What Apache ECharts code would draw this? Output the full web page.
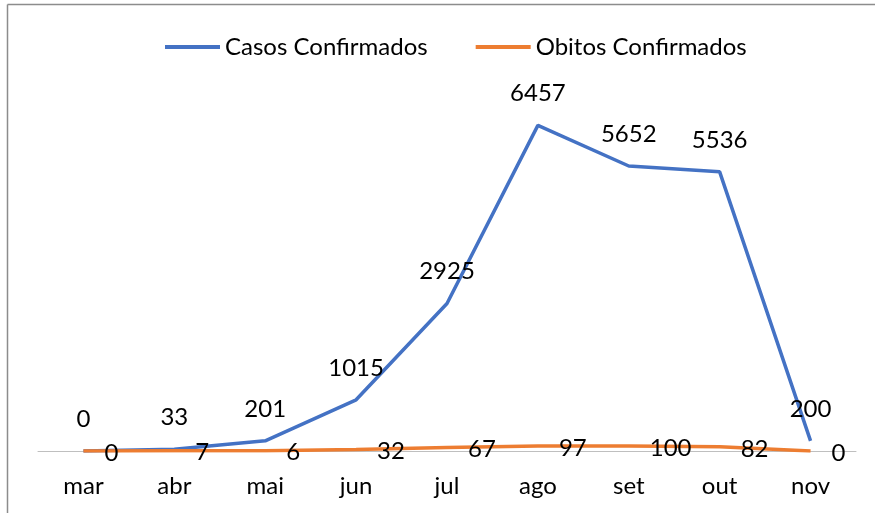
<!DOCTYPE html>
<html><head><meta charset="utf-8">
<script src="https://cdn.jsdelivr.net/npm/echarts@6/dist/echarts.min.js"></script>
<style>html,body{margin:0;padding:0;background:#fff}#c{width:875px;height:513px}</style>
</head><body><div id="c"></div>
<script>
var categories = ['mar','abr','mai','jun','jul','ago','set','out','nov'];
var casos = [0,33,201,1015,2925,6457,5652,5536,200];
var obitos = [0,7,6,32,67,97,100,82,0];
var seriesNames = ['Casos Confirmados','Obitos Confirmados'];
var FONT = 'Lato, "Noto Sans", sans-serif';
var FS = 24;
var chart = echarts.init(document.getElementById('c'));
chart.setOption({
  animation:false,
  color:['#4472C4','#ED7D31'],
  graphic:[
    {type:'line',shape:{x1:7.5,y1:4.5,x2:875,y2:4.5},style:{stroke:'#8c8c8c',lineWidth:1.5}},
    {type:'line',shape:{x1:7.5,y1:4.5,x2:7.5,y2:513},style:{stroke:'#8c8c8c',lineWidth:1.5}}
  ],
  legend:{top:30,left:160,itemWidth:55,itemHeight:4,itemGap:48,icon:'rect',
    textStyle:{fontFamily:FONT,fontSize:FS,color:'#000'},data:seriesNames},
  grid:{left:38,right:19,top:98,bottom:62,containLabel:false},
  xAxis:{type:'category',data:categories,boundaryGap:true,
    axisLine:{lineStyle:{color:'#bfbfbf',width:1}},axisTick:{show:false},
    axisLabel:{fontFamily:FONT,fontSize:FS,color:'#000',margin:23}},
  yAxis:{type:'value',min:0,max:7000,show:false,splitLine:{show:false}},
  series:[
    {name:seriesNames[0],type:'line',data:casos,symbol:'circle',symbolSize:0,showSymbol:true,lineStyle:{width:3.5},
      label:{show:true,position:'top',distance:20,fontFamily:FONT,fontSize:FS,color:'#000'}},
    {name:seriesNames[1],type:'line',data:obitos,symbol:'circle',symbolSize:0,showSymbol:true,lineStyle:{width:3.5},
      label:{show:true,position:'right',distance:21,fontFamily:FONT,fontSize:FS,color:'#000',offset:[0,2]}}
  ]
});
</script></body></html>
